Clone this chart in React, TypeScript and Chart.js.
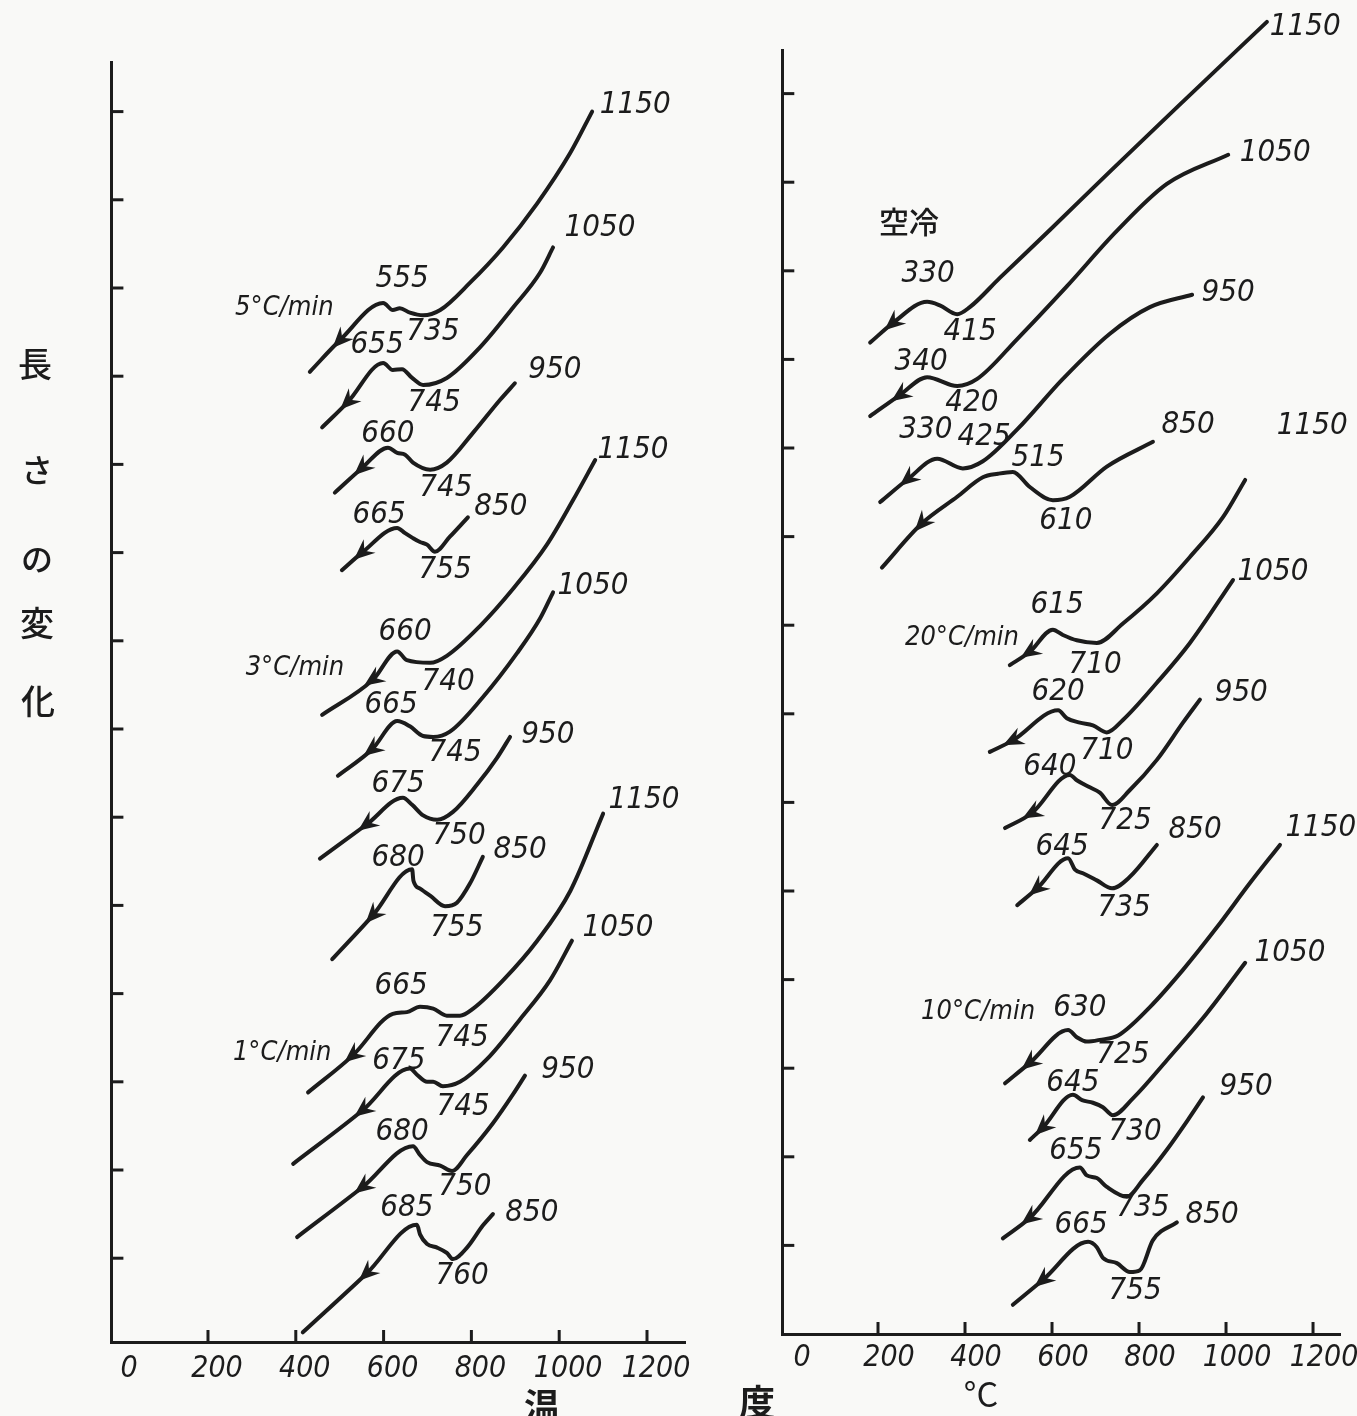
import React, { useEffect, useRef } from "react";
import { Chart, registerables } from "chart.js";

Chart.register(...registerables);

type P = [number, number];
type Note = [string, number, number];

// ---- axes ----
const X_TICKS = [0, 200, 400, 600, 800, 1000, 1200];
const Y_TICKS = [1, 2, 3, 4, 5, 6, 7, 8, 9, 10, 11, 12, 13, 14];

// ---- left panel: furnace cooling, temperature (°C) vs length change (arb.) ----
// 5 °C/min
const C5_1150: P[] = [[432, 11.05], [501, 11.41], [599, 11.83], [621, 11.75], [637, 11.77], [660, 11.72], [690, 11.69], [729, 11.75], [797, 12.06], [872, 12.46], [950, 12.96], [1025, 13.53], [1075, 14.0]];
const C5_1050: P[] = [[460, 10.42], [519, 10.71], [599, 11.15], [621, 11.07], [642, 11.08], [665, 10.98], [690, 10.9], [744, 10.98], [820, 11.33], [895, 11.78], [956, 12.17], [986, 12.46]];
const C5_950: P[] = [[489, 9.68], [551, 9.96], [610, 10.19], [631, 10.13], [649, 10.11], [667, 10.02], [706, 9.94], [744, 10.02], [804, 10.36], [865, 10.73], [899, 10.92]];
const C5_850: P[] = [[505, 8.8], [551, 9.0], [631, 9.28], [649, 9.22], [665, 9.17], [683, 9.12], [699, 9.09], [717, 9.01], [751, 9.18], [792, 9.4]];
// 3 °C/min
const C3_1150: P[] = [[460, 7.16], [576, 7.56], [631, 7.88], [653, 7.78], [706, 7.75], [744, 7.83], [820, 8.17], [895, 8.59], [972, 9.09], [1031, 9.59], [1082, 10.05]];
const C3_1050: P[] = [[496, 6.47], [574, 6.77], [631, 7.09], [660, 7.03], [690, 6.92], [713, 6.91], [751, 6.97], [826, 7.36], [904, 7.86], [956, 8.25], [986, 8.55]];
const C3_950: P[] = [[455, 5.53], [562, 5.92], [644, 6.22], [665, 6.14], [690, 6.02], [722, 5.97], [758, 6.06], [813, 6.37], [858, 6.67], [888, 6.91]];
const C3_850: P[] = [[483, 4.39], [576, 4.89], [665, 5.41], [668, 5.28], [683, 5.19], [706, 5.11], [740, 4.99], [767, 5.03], [797, 5.25], [826, 5.55]];
// 1 °C/min
const C1_1150: P[] = [[428, 2.88], [530, 3.3], [621, 3.77], [653, 3.79], [683, 3.85], [713, 3.83], [744, 3.75], [774, 3.75], [804, 3.83], [872, 4.15], [950, 4.6], [1025, 5.16], [1100, 6.04]];
const C1_1050: P[] = [[394, 2.07], [553, 2.68], [660, 3.15], [676, 3.08], [699, 3.0], [713, 3.0], [735, 2.95], [774, 3.0], [836, 3.26], [911, 3.71], [979, 4.15], [1029, 4.6]];
const C1_950: P[] = [[403, 1.24], [553, 1.81], [667, 2.27], [683, 2.17], [699, 2.09], [729, 2.05], [756, 1.99], [790, 2.17], [849, 2.53], [895, 2.86], [922, 3.07]];
const C1_850: P[] = [[416, 0.16], [562, 0.83], [676, 1.38], [683, 1.27], [699, 1.16], [722, 1.12], [744, 1.06], [758, 0.99], [790, 1.12], [826, 1.37], [849, 1.5]];

const LEFT_NOTES: Note[] = [
  ["5°C/min", 374, 11.77], ["1150", 1173, 14.07], ["555", 642, 12.1], ["735", 712, 11.5],
  ["1050", 1093, 12.68], ["655", 585, 11.35], ["745", 715, 10.7],
  ["950", 990, 11.07], ["660", 610, 10.34], ["745", 742, 9.73],
  ["850", 867, 9.52], ["665", 590, 9.43], ["755", 740, 8.8],
  ["3°C/min", 398, 7.69], ["1150", 1168, 10.16], ["660", 649, 8.1], ["740", 747, 7.53],
  ["1050", 1077, 8.62], ["665", 617, 7.27], ["745", 763, 6.73],
  ["950", 974, 6.93], ["675", 633, 6.38], ["750", 772, 5.79],
  ["850", 911, 5.63], ["680", 633, 5.54], ["755", 767, 4.74],
  ["1°C/min", 369, 3.33], ["1150", 1193, 6.2], ["665", 640, 4.09], ["745", 779, 3.5],
  ["1050", 1134, 4.74], ["675", 635, 3.24], ["745", 781, 2.71],
  ["950", 1020, 3.13], ["680", 642, 2.43], ["750", 785, 1.81],
  ["850", 938, 1.51], ["685", 653, 1.57], ["760", 779, 0.8],
];

// ---- right panel ----
// air cooling (空冷)
const A1150: P[] = [[182, 11.19], [234, 11.41], [313, 11.65], [342, 11.61], [382, 11.51], [411, 11.59], [480, 11.92], [595, 12.46], [733, 13.12], [901, 13.91], [1094, 14.81]];
const A1050: P[] = [[182, 10.36], [251, 10.6], [313, 10.8], [382, 10.7], [428, 10.78], [520, 11.23], [635, 11.83], [749, 12.45], [864, 12.98], [1005, 13.31]];
const A950: P[] = [[205, 9.39], [269, 9.65], [336, 9.88], [395, 9.77], [441, 9.85], [520, 10.21], [625, 10.78], [733, 11.29], [825, 11.59], [922, 11.73]];
const A850: P[] = [[209, 8.65], [301, 9.15], [382, 9.45], [441, 9.67], [476, 9.71], [510, 9.73], [549, 9.56], [602, 9.41], [641, 9.45], [726, 9.79], [832, 10.07]];
// 20 °C/min
const B1150: P[] = [[503, 7.55], [549, 7.7], [602, 7.95], [625, 7.89], [657, 7.83], [703, 7.8], [763, 8.02], [841, 8.36], [917, 8.77], [993, 9.22], [1044, 9.64]];
const B1050: P[] = [[457, 6.57], [510, 6.7], [614, 7.04], [634, 6.95], [664, 6.9], [694, 6.87], [726, 6.79], [763, 6.93], [841, 7.35], [917, 7.8], [1016, 8.51]];
const B950: P[] = [[492, 5.71], [554, 5.88], [641, 6.31], [657, 6.25], [687, 6.17], [710, 6.11], [738, 5.97], [779, 6.14], [841, 6.48], [901, 6.9], [940, 7.16]];
const B850: P[] = [[520, 4.84], [566, 5.03], [637, 5.37], [653, 5.24], [671, 5.2], [703, 5.12], [738, 5.03], [779, 5.16], [841, 5.52]];
// 10 °C/min
const D1150: P[] = [[492, 2.83], [549, 3.06], [637, 3.43], [657, 3.35], [680, 3.3], [710, 3.32], [752, 3.37], [825, 3.69], [901, 4.11], [979, 4.59], [1055, 5.09], [1124, 5.52]];
const D1050: P[] = [[549, 2.19], [579, 2.33], [648, 2.7], [669, 2.64], [694, 2.61], [717, 2.56], [740, 2.47], [786, 2.66], [864, 3.09], [956, 3.62], [1044, 4.19]];
const D950: P[] = [[487, 1.08], [549, 1.31], [664, 1.88], [680, 1.79], [703, 1.76], [726, 1.66], [772, 1.55], [809, 1.74], [864, 2.08], [917, 2.45], [947, 2.67]];
const D850: P[] = [[510, 0.33], [579, 0.61], [683, 1.04], [703, 0.98], [717, 0.86], [749, 0.8], [779, 0.7], [802, 0.72], [832, 1.06], [887, 1.26]];

const RIGHT_NOTES: Note[] = [
  ["空冷", 271, 12.55], ["1150", 1182, 14.75], ["330", 315, 11.96], ["415", 412, 11.31],
  ["1050", 1113, 13.33], ["340", 299, 10.97], ["420", 416, 10.51],
  ["950", 1005, 11.75], ["330", 310, 10.2], ["425", 444, 10.12],
  ["850", 913, 10.26], ["515", 568, 9.89], ["610", 632, 9.18],
  ["20°C/min", 393, 7.86], ["1150", 1198, 10.25], ["615", 612, 8.23], ["710", 699, 7.55],
  ["1050", 1108, 8.6], ["620", 614, 7.25], ["710", 726, 6.58],
  ["950", 1035, 7.23], ["640", 595, 6.4], ["725", 768, 5.79],
  ["850", 929, 5.69], ["645", 623, 5.5], ["735", 766, 4.81],
  ["10°C/min", 430, 3.63], ["1150", 1218, 5.71], ["630", 664, 3.68], ["725", 763, 3.15],
  ["1050", 1147, 4.3], ["645", 648, 2.83], ["730", 791, 2.28],
  ["950", 1046, 2.79], ["655", 655, 2.07], ["735", 809, 1.42],
  ["850", 968, 1.34], ["665", 667, 1.23], ["755", 791, 0.49],
];

const LEFT_CURVES = [C5_1150, C5_1050, C5_950, C5_850, C3_1150, C3_1050, C3_950, C3_850, C1_1150, C1_1050, C1_950, C1_850];
const RIGHT_CURVES = [A1150, A1050, A950, A850, B1150, B1050, B950, B850, D1150, D1050, D950, D850];

// ---- styling ----
const INK = "#1c1c1c";
const PAPER = "#f9f9f7";
const NUM_FONT = "'Liberation Sans Narrow', 'DejaVu Sans Condensed', 'Arial Narrow', sans-serif";
const JP_FONT = "'Noto Sans CJK JP', 'Noto Sans CJK SC', sans-serif";

const decor = {
  id: "decor",
  afterDatasetsDraw(chart: any, _args: any, opts: any) {
    const ctx = chart.ctx as CanvasRenderingContext2D;
    const xs = chart.scales.x;
    const ys = chart.scales.y;
    const area = chart.chartArea;
    ctx.save();
    ctx.strokeStyle = INK;
    ctx.fillStyle = INK;
    ctx.lineWidth = 3;
    ctx.lineCap = "butt";
    // inward tick marks
    ys.ticks.forEach((t: any) => {
      const py = ys.getPixelForValue(t.value);
      ctx.beginPath();
      ctx.moveTo(area.left, py);
      ctx.lineTo(area.left + 12, py);
      ctx.stroke();
    });
    xs.ticks.forEach((t: any) => {
      if (t.value <= 0) return;
      const px = xs.getPixelForValue(t.value);
      ctx.beginPath();
      ctx.moveTo(px, area.bottom);
      ctx.lineTo(px, area.bottom - 12);
      ctx.stroke();
    });
    // arrowheads on the cooling branch
    chart.data.datasets.forEach((_ds: any, i: number) => {
      const meta = chart.getDatasetMeta(i);
      const a = meta.data[0];
      const b = meta.data[1];
      if (!a || !b) return;
      const ang = Math.atan2(a.y - b.y, a.x - b.x);
      const ux = Math.cos(ang), uy = Math.sin(ang);
      const tipX = b.x + ux * 11, tipY = b.y + uy * 11;
      const baseX = b.x - ux * 10, baseY = b.y - uy * 10;
      const w = 9;
      ctx.beginPath();
      ctx.moveTo(tipX, tipY);
      ctx.lineTo(baseX - uy * w, baseY + ux * w);
      ctx.lineTo(b.x - ux * 3, b.y - uy * 3);
      ctx.lineTo(baseX + uy * w, baseY - ux * w);
      ctx.closePath();
      ctx.fill();
    });
    // annotations
    ctx.textAlign = "center";
    ctx.textBaseline = "middle";
    (opts.notes || []).forEach((n: Note) => {
      const [text, tx, ty] = n;
      const isJp = /[\u3040-\u9fff]/.test(text);
      const isRate = text.indexOf("/min") >= 0;
      ctx.font = isJp
        ? `500 30px ${JP_FONT}`
        : isRate
        ? `italic 27px ${NUM_FONT}`
        : `italic 31px ${NUM_FONT}`;
      ctx.fillText(text, xs.getPixelForValue(tx), ys.getPixelForValue(ty));
    });
    ctx.restore();
  },
};

type PanelProps = {
  curves: P[][];
  notes: Note[];
  left: number;
  width: number;
  xMax: number;
  yMin: number;
  yMax: number;
  padding: { left: number; right: number; top: number; bottom: number };
  labelOffset: number;
  labelPad: number;
};

function Panel(props: PanelProps) {
  const ref = useRef<HTMLCanvasElement>(null);
  useEffect(() => {
    const canvas = ref.current;
    if (!canvas) return;
    const axisGrid = { display: true, drawOnChartArea: false, drawTicks: false };
    const axisBorder = { display: true, color: INK, width: 3 };
    const chart = new Chart(canvas, {
      type: "line",
      data: {
        datasets: props.curves.map((c) => ({
          data: c.map(([x, y]) => ({ x, y })),
          borderColor: INK,
          borderWidth: 4,
          pointRadius: 0,
          cubicInterpolationMode: "monotone",
          borderCapStyle: "round",
          borderJoinStyle: "round",
          clip: false,
          fill: false,
        })),
      } as any,
      options: {
        animation: false,
        responsive: false,
        events: [],
        layout: { padding: props.padding },
        plugins: {
          legend: { display: false },
          tooltip: { enabled: false },
          decor: { notes: props.notes },
        } as any,
        scales: {
          x: {
            type: "linear",
            min: -20,
            max: props.xMax,
            afterBuildTicks: (s: any) => {
              s.ticks = X_TICKS.map((v) => ({ value: v }));
            },
            afterFit: (s: any) => {
              s.height = 50;
            },
            grid: axisGrid,
            border: axisBorder,
            ticks: {
              color: INK,
              font: { family: NUM_FONT, size: 30, style: "italic" },
              padding: props.labelPad,
              labelOffset: props.labelOffset,
              maxRotation: 0,
              autoSkip: false,
              callback: (v: any) => String(v),
            },
          },
          y: {
            type: "linear",
            min: props.yMin,
            max: props.yMax,
            afterBuildTicks: (s: any) => {
              s.ticks = Y_TICKS.map((v) => ({ value: v }));
            },
            afterFit: (s: any) => {
              s.width = 0;
            },
            grid: axisGrid,
            border: axisBorder,
            ticks: { display: false },
          },
        },
      } as any,
      plugins: [decor],
    });
    return () => chart.destroy();
  }, []);
  return (
    <canvas
      ref={ref}
      width={props.width}
      height={1416}
      style={{ position: "absolute", left: props.left, top: 0, width: props.width, height: 1416 }}
    />
  );
}

const jp = (size: number, weight: number): React.CSSProperties => ({
  position: "absolute",
  transform: "translate(-50%, -50%)",
  fontFamily: JP_FONT,
  fontSize: size,
  fontWeight: weight,
  lineHeight: 1,
  color: INK,
  whiteSpace: "nowrap",
});

export default function App() {
  return (
    <div
      style={{
        position: "absolute",
        left: 0,
        top: 0,
        width: 1357,
        height: 1416,
        background: PAPER,
        overflow: "hidden",
      }}
    >
      <Panel
        curves={LEFT_CURVES}
        notes={LEFT_NOTES}
        left={0}
        width={700}
        xMax={1287}
        yMin={0.05}
        yMax={14.56}
        padding={{ left: 111.4, right: 14.8, top: 62.2, bottom: 24 }}
        labelOffset={9}
        labelPad={9}
      />
      <Panel
        curves={RIGHT_CURVES}
        notes={RIGHT_NOTES}
        left={700}
        width={657}
        xMax={1262}
        yMin={0}
        yMax={14.49}
        padding={{ left: 82.3, right: 17, top: 50.2, bottom: 32 }}
        labelOffset={11}
        labelPad={6}
      />
      <div style={{ ...jp(34, 500), left: 35, top: 363 }}>長</div>
      <div style={{ ...jp(32, 500), left: 37, top: 468 }}>さ</div>
      <div style={{ ...jp(32, 500), left: 37, top: 557 }}>の</div>
      <div style={{ ...jp(34, 500), left: 37, top: 622 }}>変</div>
      <div style={{ ...jp(34, 500), left: 38, top: 700 }}>化</div>
      <div style={{ ...jp(36, 700), left: 542, top: 1404 }}>温</div>
      <div style={{ ...jp(36, 700), left: 757, top: 1400 }}>度</div>
      <div style={{ ...jp(34, 400), left: 981, top: 1393 }}>°C</div>
    </div>
  );
}
